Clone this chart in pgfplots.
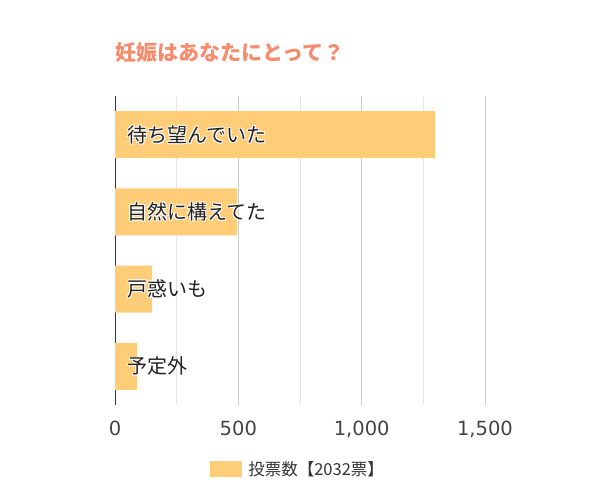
\documentclass[border=0pt]{standalone}
\usepackage{fontspec}
\setmainfont{Noto Sans CJK JP}
\newfontfamily\dejavu{DejaVu Sans}
\usepackage{pgfplots}
\pgfplotsset{compat=1.18}
\definecolor{barc}{HTML}{FFCC77}
\definecolor{titlec}{HTML}{F58C6E}
\definecolor{labc}{HTML}{222222}
\definecolor{tickc}{HTML}{444444}
\definecolor{axc}{HTML}{333333}
\newcommand\halo[1]{\leavevmode
\rlap{\color{white}\hspace{0.8pt}\raisebox{0.8pt}{#1}}%
\rlap{\color{white}\hspace{-0.8pt}\raisebox{0.8pt}{#1}}%
\rlap{\color{white}\hspace{0.8pt}\raisebox{-0.8pt}{#1}}%
\rlap{\color{white}\hspace{-0.8pt}\raisebox{-0.8pt}{#1}}%
{\color{labc}#1}}
\begin{document}
\begin{tikzpicture}
\useasboundingbox (0,0) rectangle (600pt,500pt);
\node[anchor=west, inner sep=0, text=titlec, font=\fontsize{21}{23}\selectfont\bfseries] at (115pt,447pt) {妊娠はあなたにとって？};
\begin{axis}[
  at={(115pt,95pt)}, anchor=south west,
  scale only axis, width=370pt, height=309pt,
  xbar, bar width=47pt,
  xmin=0, xmax=1500,
  ymin=-0.5, ymax=3.5, y dir=reverse,
  ytick=\empty,
  xtick={0,500,1000,1500},
  minor xtick={250,750,1250},
  xmajorgrids, xminorgrids,
  major grid style={draw=black!20},
  minor grid style={draw=black!10},
  major tick length=0pt, minor tick length=0pt,
  axis lines=left,
  axis line style={-},
  x axis line style={draw=none},
  y axis line style={draw=axc},
  /pgf/number format/assume math mode=true,
  /pgf/number format/1000 sep={,},
  xticklabel style={font=\dejavu\fontsize{19.5}{21}\selectfont, text=tickc, yshift=-12pt},
  legend style={at={(0.257,-0.207)}, anchor=west, draw=none, inner sep=0pt,
    font=\fontsize{16.5}{18}\selectfont, text=axc,
    legend cell align=left,
    nodes={inner xsep=6pt}},
  legend image code/.code={\fill[#1] (0pt,-8pt) rectangle (32pt,8pt);},
]
\addplot[fill=barc, draw=none] coordinates {(1297,0) (495,1) (151,2) (89,3)};
\addlegendentry{投票数【2032票】}
\node[anchor=west, inner sep=0pt, xshift=12pt, font=\fontsize{20}{22}\selectfont] at (axis cs:0,0) {\halo{待ち望んでいた}};
\node[anchor=west, inner sep=0pt, xshift=12pt, font=\fontsize{20}{22}\selectfont] at (axis cs:0,1) {\halo{自然に構えてた}};
\node[anchor=west, inner sep=0pt, xshift=12pt, font=\fontsize{20}{22}\selectfont] at (axis cs:0,2) {\halo{戸惑いも}};
\node[anchor=west, inner sep=0pt, xshift=12pt, font=\fontsize{20}{22}\selectfont] at (axis cs:0,3) {\halo{予定外}};
\end{axis}
\end{tikzpicture}
\end{document}
